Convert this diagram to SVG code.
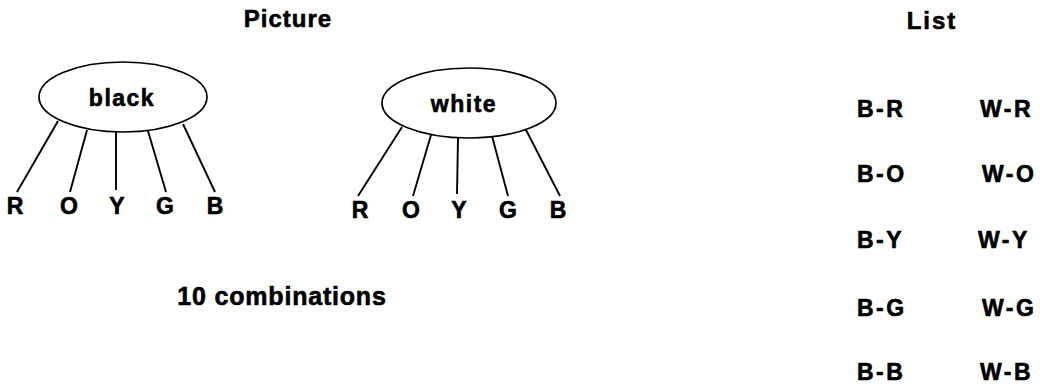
<svg xmlns="http://www.w3.org/2000/svg" width="1040" height="387" viewBox="0 0 1040 387">
<style>
text{font-family:"Liberation Sans",Arial,sans-serif;font-weight:bold;fill:#000;stroke:#000;stroke-width:0.6}
.t{font-size:24px;letter-spacing:1px;text-anchor:middle}
.n{font-size:23px;letter-spacing:1.5px;text-anchor:middle}
.l{font-size:23px;letter-spacing:2px;text-anchor:middle}
.li{font-size:23px;letter-spacing:2.5px}
.node{fill:#fff;stroke:#000;stroke-width:1.7}
.conn line{stroke:#000;stroke-width:1.9}
</style>
<rect width="1040" height="387" fill="#fff"/>
<text class="t" x="288" y="27">Picture</text>
<text class="t" x="932" y="29" style="letter-spacing:2px">List</text>
<g class="conn" id="connectors">
<line x1="58" y1="121" x2="17" y2="192"/>
<line x1="87" y1="130" x2="70" y2="192"/>
<line x1="116" y1="132" x2="116" y2="190"/>
<line x1="148" y1="131" x2="166" y2="192"/>
<line x1="183" y1="124" x2="215" y2="192"/>
<line x1="402" y1="127" x2="358" y2="196"/>
<line x1="431" y1="135" x2="413" y2="196"/>
<line x1="458" y1="138" x2="457" y2="194"/>
<line x1="492" y1="136" x2="508" y2="196"/>
<line x1="525" y1="128" x2="560" y2="196"/>
</g>
<g id="black">
<ellipse class="node" cx="123" cy="97" rx="84" ry="35"/>
<text class="n" x="122" y="106">black</text>
</g>
<g id="white">
<ellipse class="node" cx="469" cy="103" rx="87" ry="35"/>
<text class="n" x="464" y="112">white</text>
</g>
<g id="black-colors">
<text class="l" x="16" y="214">R</text>
<text class="l" x="70" y="214">O</text>
<text class="l" x="118" y="214">Y</text>
<text class="l" x="166" y="214">G</text>
<text class="l" x="216" y="214">B</text>
</g>
<g id="white-colors">
<text class="l" x="361" y="218">R</text>
<text class="l" x="412" y="218">O</text>
<text class="l" x="460" y="218">Y</text>
<text class="l" x="509" y="218">G</text>
<text class="l" x="559" y="218">B</text>
</g>
<text x="282" y="305" style="font-size:25px;letter-spacing:0.8px;text-anchor:middle">10 combinations</text>
<g id="list">
<text class="li" x="857" y="117">B-R</text>
<text class="li" x="980" y="117">W-R</text>
<text class="li" x="857" y="182">B-O</text>
<text class="li" x="982" y="182">W-O</text>
<text class="li" x="857" y="248">B-Y</text>
<text class="li" x="978" y="248">W-Y</text>
<text class="li" x="857" y="316">B-G</text>
<text class="li" x="982" y="316">W-G</text>
<text class="li" x="857" y="380">B-B</text>
<text class="li" x="980" y="380">W-B</text>
</g>
</svg>
